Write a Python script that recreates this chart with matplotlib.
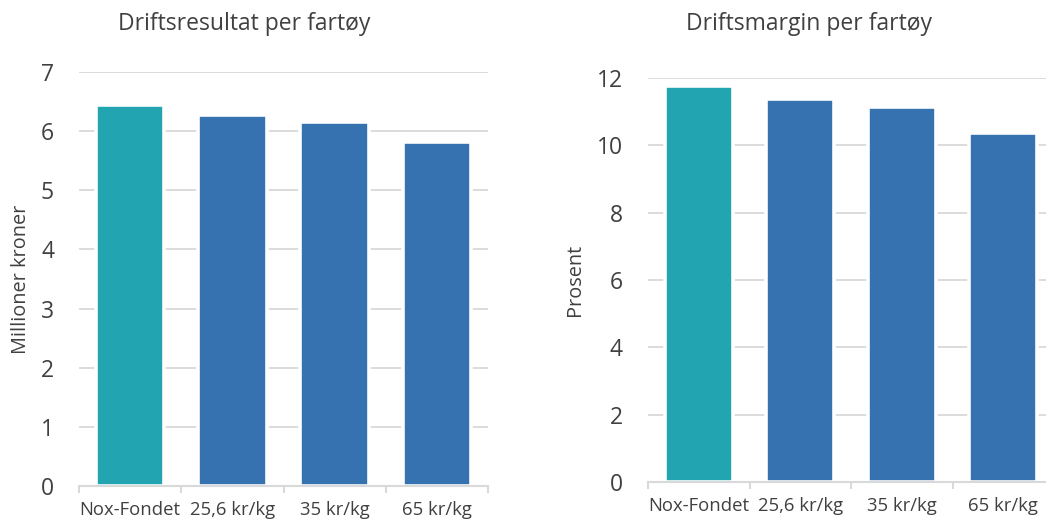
import numpy as np
import matplotlib.pyplot as plt

categories = ["Nox-Fondet", "25,6 kr/kg", "35 kr/kg", "65 kr/kg"]
driftsresultat = [6.44, 6.27, 6.15, 5.82]
driftsmargin = [11.75, 11.37, 11.13, 10.37]

teal = "#22A5B0"
blue = "#3672B0"
colors = [teal, blue, blue, blue]
text_col = "#404040"
grid_col = "#d9d9d9"

plt.rcParams["font.family"] = ["Open Sans", "DejaVu Sans"]

fig = plt.figure(figsize=(10.46, 5.22), dpi=100)


def draw(ax, values, ymax, step, ylabel):
    x = np.arange(len(categories))
    ax.bar(x, values, width=0.67, color=colors, edgecolor="white",
           linewidth=2.6, zorder=3)
    ax.set_xlim(-0.5, len(categories) - 0.5)
    ax.set_ylim(0, ymax)
    ax.set_yticks(np.arange(0, ymax + 0.1, step))
    ax.yaxis.grid(True, color=grid_col, linewidth=1.3, zorder=0)
    ax.set_axisbelow(True)
    for s in ["top", "right", "left"]:
        ax.spines[s].set_visible(False)
    ax.spines["bottom"].set_color(grid_col)
    ax.spines["bottom"].set_linewidth(1.5)
    ax.spines["bottom"].set_zorder(4)
    ax.set_xticks(x)
    ax.set_xticklabels(categories, fontsize=13.3, color=text_col)
    ax.set_xticks(np.arange(-0.5, len(categories)), minor=True)
    ax.tick_params(axis="x", which="major", length=0, pad=11)
    ax.tick_params(axis="x", which="minor", length=5, width=1.5, color=grid_col)
    ax.tick_params(axis="y", length=0, pad=18, labelsize=16.5, labelcolor=text_col)
    ax.set_ylabel(ylabel, fontsize=14.3, color=text_col)


ax1 = fig.add_axes([79 / 1046, 1 - 486 / 522, 409 / 1046, 414 / 522])
draw(ax1, driftsresultat, 7, 1, "Millioner kroner")
ax1.yaxis.set_label_coords(-0.117, 0.5)

ax2 = fig.add_axes([648 / 1046, 1 - 482 / 522, 406 / 1046, 404 / 522])
draw(ax2, driftsmargin, 12, 2, "Prosent")
ax2.yaxis.set_label_coords(-0.155, 0.5)

fig.text(244 / 1046, 1 - 24 / 522, "Driftsresultat per fartøy", fontsize=16.5,
         color=text_col, ha="center", va="center")
fig.text(809 / 1046, 1 - 24 / 522, "Driftsmargin per fartøy", fontsize=16.5,
         color=text_col, ha="center", va="center")

fig.savefig("out.png", dpi=100)
